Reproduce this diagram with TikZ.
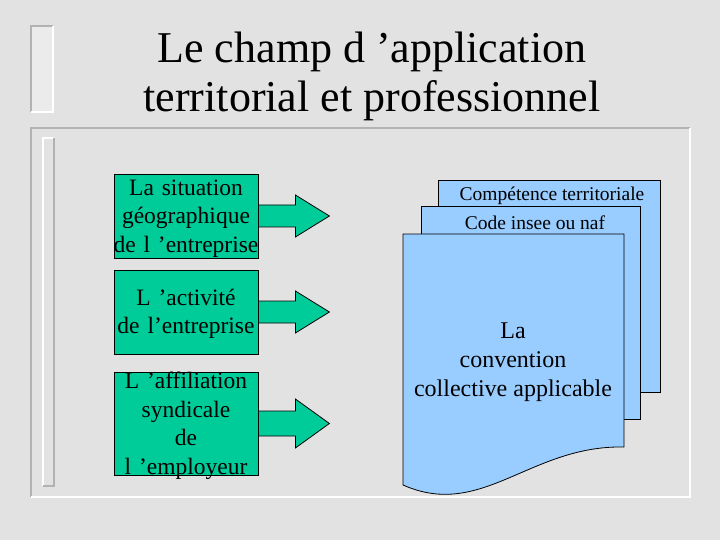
\documentclass[tikz,border=0pt]{standalone}
\usepackage{fontspec}
\setmainfont{Liberation Serif}
\definecolor{tealgreen}{RGB}{0,204,153}
\definecolor{paleblue}{RGB}{153,204,255}
\definecolor{marble}{RGB}{226,226,226}
\definecolor{frameg}{RGB}{178,178,178}
\begin{document}
\begin{tikzpicture}[x=1pt,y=-1pt,
  greenbox/.style={draw=black, fill=tealgreen, line width=0.8pt, minimum width=144pt, inner sep=0pt},
  boxtext/.style={inner sep=0pt, text width=160pt, align=center, font=\fontsize{23.5}{28.5}\selectfont},
  blockarrow/.style={draw=black, fill=tealgreen, line width=0.8pt, line join=miter},
  page/.style={draw=black, fill=paleblue, line width=0.8pt},
  pagetext/.style={inner sep=0pt, align=center, font=\fontsize{19.5}{22}\selectfont},
  bigtext/.style={inner sep=0pt, align=center, font=\fontsize{24}{29}\selectfont},
  titletext/.style={inner sep=0pt, align=center, font=\fontsize{44}{49}\selectfont}]
\useasboundingbox (0,0) rectangle (720,540);
\fill[marble] (0,0) rectangle (720,540);
% title bar
\fill[marble!70!white] (30,25) rectangle (53,112);
\draw[frameg, line width=2.5pt] (31,112) -- (31,26) -- (53,26);
\draw[white, line width=2pt] (53,26) -- (53,112) -- (31,112);
% body frame
\draw[frameg, line width=2pt] (31,497) -- (31,128) -- (690,128);
\draw[white, line width=2pt] (690,128) -- (690,497) -- (31,497);
% inner bar
\draw[white, line width=2pt] (43,486) -- (43,138) -- (54,138);
\draw[frameg, line width=2pt] (54,138) -- (54,486) -- (43,486);
% title
\node[titletext] (title) at (372,76) {Le champ d ’application\\territorial et professionnel};
% green boxes
\node[greenbox, minimum height=84pt] (b1) at (186,216) {};
\node[greenbox, minimum height=84pt] (b2) at (186,312) {};
\node[greenbox, minimum height=103pt] (b3) at (186,423.5) {};
\node[boxtext] (t1) at ([yshift=-2.5pt]b1.center) {La situation\\géographique\\de l ’entreprise};
\node[boxtext] (t2) at ([yshift=-2pt]b2.center) {L ’activité\\de l’entreprise};
\node[boxtext] (t3) at ([yshift=-2.5pt]b3.center) {L ’affiliation\\syndicale\\de\\l ’employeur};
% block arrows
\draw[blockarrow] (b1.east) ++(0,-11) -- ++(37,0) -- ++(0,-10) -- ++(34,21) -- ++(-34,21) -- ++(0,-10) -- ++(-37,0) -- cycle;
\draw[blockarrow] (b2.east) ++(0,-11) -- ++(37,0) -- ++(0,-10) -- ++(34,21) -- ++(-34,21) -- ++(0,-10) -- ++(-37,0) -- cycle;
\draw[blockarrow] (b3.east) ++(0,-12.5) -- ++(37,0) -- ++(0,-12) -- ++(34,24.5) -- ++(-34,24.5) -- ++(0,-12) -- ++(-37,0) -- cycle;
% document stack
\draw[page] (438,180) rectangle (660,392);
\draw[page] (421,206) rectangle (640,419);
\draw[page] (403,234) -- (624,234) -- (624,447) .. controls (530,445) and (482,520) .. (403,485) -- cycle;
\node[pagetext] (d1) at (552,196) {Compétence territoriale};
\node[pagetext] (d2) at (535,223) {Code insee ou naf};
\node[bigtext] (d3) at (513,362) {La\\convention\\collective applicable};
\end{tikzpicture}
\end{document}
